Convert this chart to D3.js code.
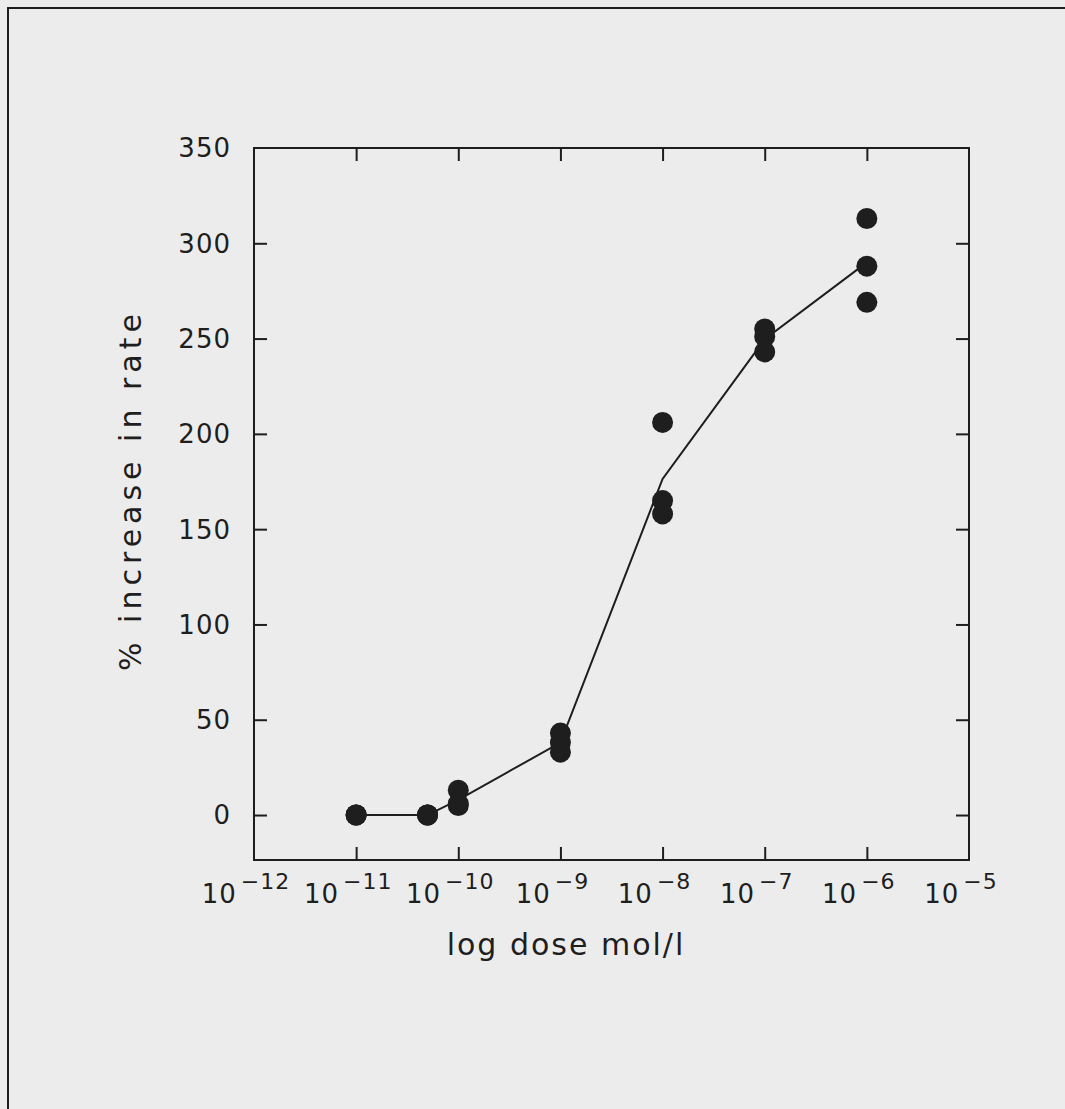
<!DOCTYPE html>
<html><head><meta charset="utf-8">
<script src="https://cdn.jsdelivr.net/npm/d3@7"></script>
<style>
html,body{margin:0;padding:0;background:#ececec;}
svg{display:block;}
text{font-family:"DejaVu Sans",sans-serif;fill:#1e1e1e;}
</style></head>
<body>
<svg id="chart" width="1065" height="1109"></svg>
<script>
const doses = [1e-11, 5e-11, 1e-10, 1e-9, 1e-8, 1e-7, 1e-6];
const rep1 = [0, 0, 13, 43, 206, 255, 313];
const rep2 = [0, 0, 5, 38, 165, 251, 288];
const rep3 = [0, 0, 6, 33, 158, 243, 269];
const xTickValues = [1e-12, 1e-11, 1e-10, 1e-9, 1e-8, 1e-7, 1e-6, 1e-5];
const xTickExponents = ["−12", "−11", "−10", "−9", "−8", "−7", "−6", "−5"];
const yTickValues = [0, 50, 100, 150, 200, 250, 300, 350];
const xTitle = "log dose mol/l";
const yTitle = "% increase in rate";

const svg = d3.select("#chart");
const x = d3.scaleLog().domain([1e-12, 1e-5]).range([254, 969]);
const y = d3.scaleLinear().domain([-23.6, 350]).range([860, 148]);
const ink = "#1e1e1e";

// outer frame
svg.append("rect").attr("x", 8).attr("y", 8).attr("width", 1080).attr("height", 1120)
  .attr("fill", "none").attr("stroke", ink).attr("stroke-width", 2);

// plot frame
svg.append("rect").attr("x", x.range()[0]).attr("y", y.range()[1])
  .attr("width", x.range()[1] - x.range()[0]).attr("height", y.range()[0] - y.range()[1])
  .attr("fill", "none").attr("stroke", ink).attr("stroke-width", 2);

const tl = 13;
const xInner = xTickValues.slice(1, -1);
svg.append("g").attr("transform", `translate(0,${y.range()[0]})`)
  .call(d3.axisBottom(x).tickValues(xInner).tickSize(-tl).tickFormat(""))
  .call(g => g.select(".domain").remove())
  .call(g => g.selectAll("line").attr("stroke", ink).attr("stroke-width", 2));
svg.append("g").attr("transform", `translate(0,${y.range()[1]})`)
  .call(d3.axisTop(x).tickValues(xInner).tickSize(-tl).tickFormat(""))
  .call(g => g.select(".domain").remove())
  .call(g => g.selectAll("line").attr("stroke", ink).attr("stroke-width", 2));
const yInner = yTickValues.slice(0, -1);
svg.append("g").attr("transform", `translate(${x.range()[0]},0)`)
  .call(d3.axisLeft(y).tickValues(yInner).tickSize(-tl).tickFormat(""))
  .call(g => g.select(".domain").remove())
  .call(g => g.selectAll("line").attr("stroke", ink).attr("stroke-width", 2));
svg.append("g").attr("transform", `translate(${x.range()[1]},0)`)
  .call(d3.axisRight(y).tickValues(yInner).tickSize(-tl).tickFormat(""))
  .call(g => g.select(".domain").remove())
  .call(g => g.selectAll("line").attr("stroke", ink).attr("stroke-width", 2));

// y tick labels
svg.append("g").selectAll("text").data(yTickValues).join("text")
  .attr("x", 231).attr("y", d => y(d)).attr("dy", "0.36em")
  .attr("text-anchor", "end").attr("font-size", 26).attr("letter-spacing", 1)
  .text(d => d);

// x tick labels
const xl = svg.append("g").selectAll("text").data(xTickValues).join("text")
  .attr("x", (d) => x(d) - 8).attr("y", 903)
  .attr("text-anchor", "middle").attr("font-size", 26).attr("letter-spacing", 1);
xl.append("tspan").text("10");
xl.append("tspan").attr("dx", 4).attr("dy", -14).attr("font-size", 22).text((d, i) => xTickExponents[i]);

// axis titles
svg.append("text").attr("x", 566).attr("y", 955).attr("text-anchor", "middle")
  .attr("font-size", 30).attr("letter-spacing", 2).text(xTitle);
svg.append("text").attr("transform", "translate(141,490) rotate(-90)")
  .attr("text-anchor", "middle").attr("font-size", 30).attr("letter-spacing", 5).text(yTitle);

// mean line
const means = doses.map((d, i) => ({dose: d, v: d3.mean([rep1[i], rep2[i], rep3[i]])}));
svg.append("path").datum(means)
  .attr("d", d3.line().x(d => x(d.dose)).y(d => y(d.v)))
  .attr("fill", "none").attr("stroke", ink).attr("stroke-width", 2);

// points
const pts = [];
doses.forEach((d, i) => [rep1, rep2, rep3].forEach(r => pts.push({dose: d, v: r[i]})));
svg.append("g").selectAll("circle").data(pts).join("circle")
  .attr("cx", d => x(d.dose)).attr("cy", d => y(d.v)).attr("r", 10.5)
  .attr("fill", ink);
</script>
</body></html>
